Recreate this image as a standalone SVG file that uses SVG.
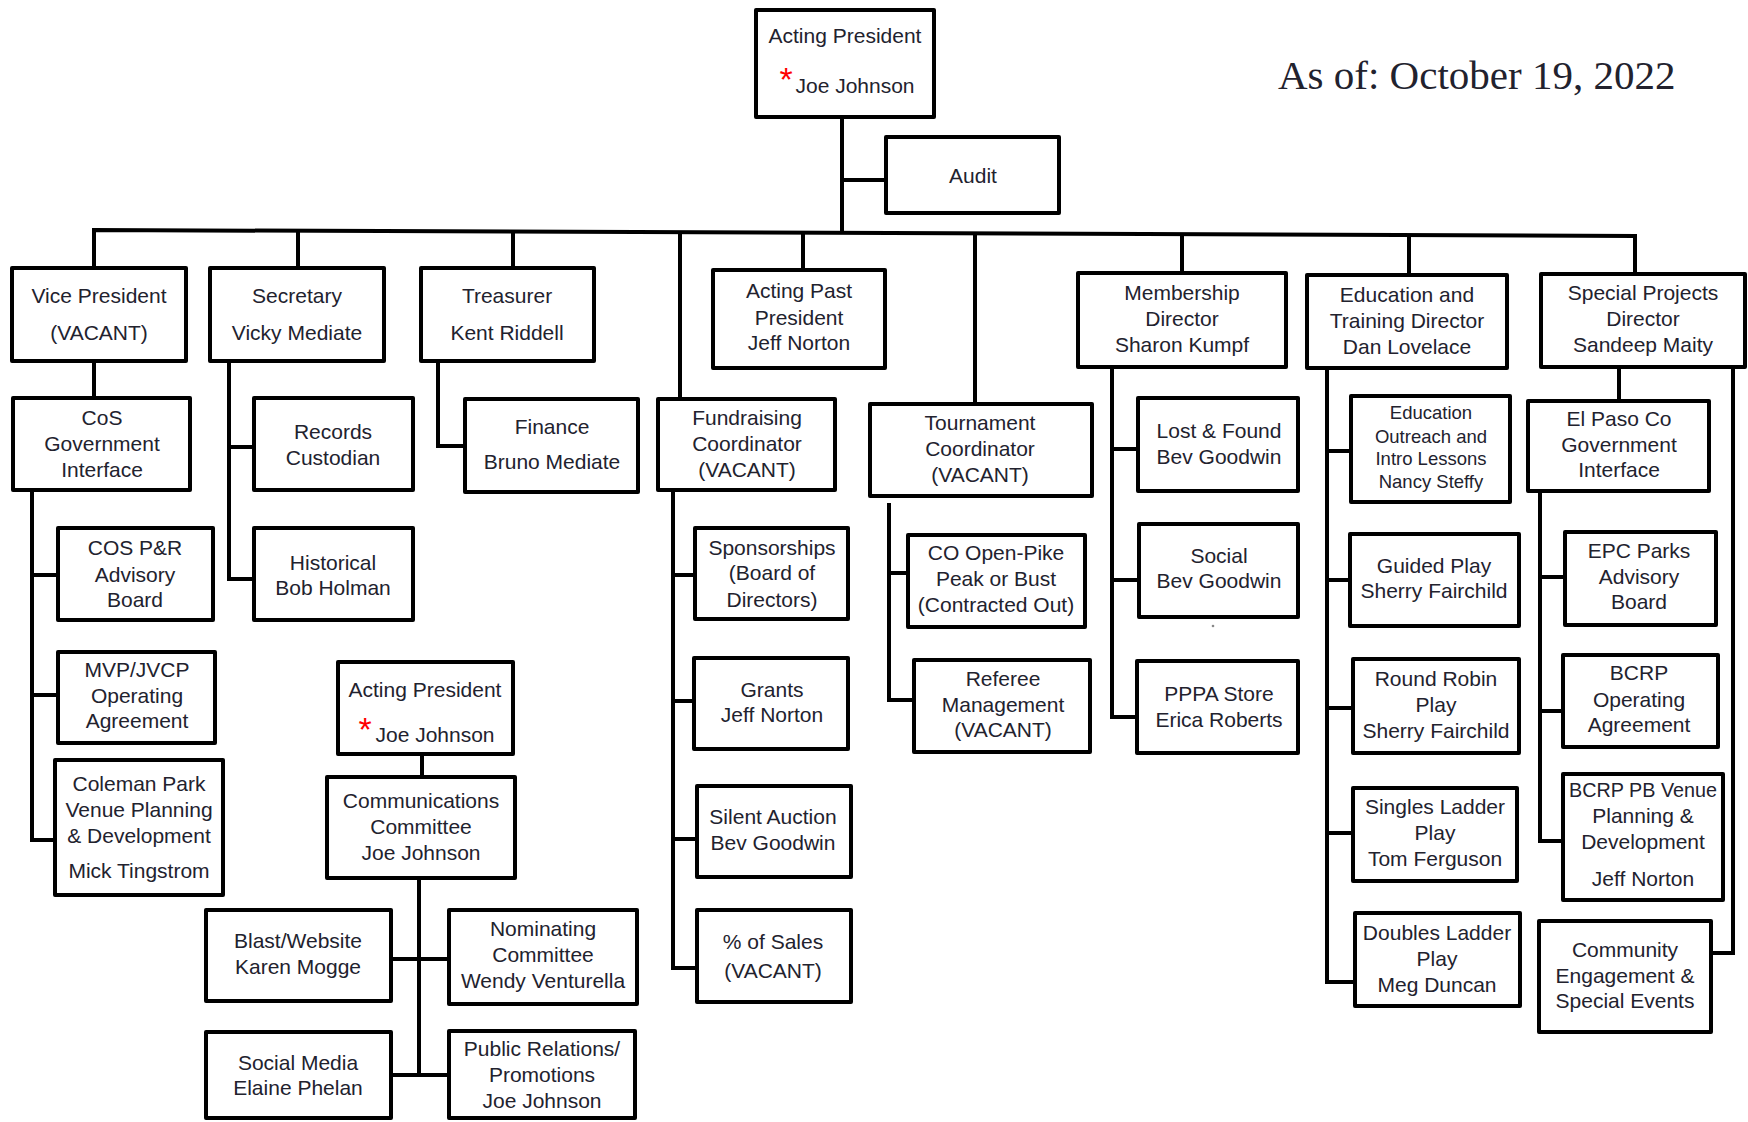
<svg xmlns="http://www.w3.org/2000/svg" width="1748" height="1122" viewBox="0 0 1748 1122">
<style>
.box{fill:#fff;stroke:#000;stroke-width:4;stroke-linejoin:round}
.t{font-family:"Liberation Sans",Arial,sans-serif;font-size:21px;fill:#22222e;text-anchor:middle}
.s{font-size:18.5px}
.ast{font-family:"Liberation Sans",Arial,sans-serif;font-size:34px;fill:#ff0000;text-anchor:middle}
.date{font-family:"Liberation Serif","Times New Roman",serif;font-size:41px;fill:#22222e}
.c{fill:none;stroke:#000;stroke-width:4;stroke-linejoin:miter}
</style>
<rect width="1748" height="1122" fill="#fff"/>
<text class="date" x="1278" y="89">As of: October 19, 2022</text>
<circle cx="1213" cy="626" r="1.3" fill="#888"/>
<g id="connectors">
<polyline class="c" points="94,268 94,230 1635,236 1635,274"/>
<line class="c" x1="298" y1="231" x2="298" y2="268"/>
<line class="c" x1="513" y1="232" x2="513" y2="268"/>
<line class="c" x1="680" y1="232" x2="680" y2="399"/>
<line class="c" x1="842" y1="117" x2="842" y2="234"/>
<line class="c" x1="842" y1="180" x2="886" y2="180"/>
<line class="c" x1="803" y1="233" x2="803" y2="270"/>
<line class="c" x1="975" y1="233" x2="975" y2="404"/>
<line class="c" x1="1182" y1="234" x2="1182" y2="273"/>
<line class="c" x1="1409" y1="235" x2="1409" y2="275"/>
<line class="c" x1="94" y1="361" x2="94" y2="398"/>
<polyline class="c" points="32,490 32,840 55,840"/>
<line class="c" x1="32" y1="575" x2="58" y2="575"/>
<line class="c" x1="32" y1="695" x2="58" y2="695"/>
<polyline class="c" points="229,361 229,579 254,579"/>
<line class="c" x1="229" y1="447" x2="254" y2="447"/>
<polyline class="c" points="438,361 438,446 465,446"/>
<polyline class="c" points="673,490 673,968 697,968"/>
<line class="c" x1="673" y1="575" x2="695" y2="575"/>
<line class="c" x1="673" y1="701" x2="694" y2="701"/>
<line class="c" x1="673" y1="839" x2="697" y2="839"/>
<polyline class="c" points="889,503 889,700 914,700"/>
<line class="c" x1="889" y1="573" x2="908" y2="573"/>
<polyline class="c" points="1112,367 1112,717 1137,717"/>
<line class="c" x1="1112" y1="449" x2="1138" y2="449"/>
<line class="c" x1="1112" y1="580" x2="1139" y2="580"/>
<polyline class="c" points="1327,368 1327,982 1355,982"/>
<line class="c" x1="1327" y1="451" x2="1351" y2="451"/>
<line class="c" x1="1327" y1="580" x2="1350" y2="580"/>
<line class="c" x1="1327" y1="708" x2="1353" y2="708"/>
<line class="c" x1="1327" y1="833" x2="1353" y2="833"/>
<line class="c" x1="1619" y1="367" x2="1619" y2="401"/>
<polyline class="c" points="1540,491 1540,841 1563,841"/>
<line class="c" x1="1540" y1="577" x2="1565" y2="577"/>
<line class="c" x1="1540" y1="711" x2="1563" y2="711"/>
<polyline class="c" points="1733,367 1733,953 1711,953"/>
<line class="c" x1="422" y1="754" x2="422" y2="777"/>
<line class="c" x1="419" y1="878" x2="419" y2="1075"/>
<line class="c" x1="391" y1="959" x2="449" y2="959"/>
<line class="c" x1="391" y1="1075" x2="449" y2="1075"/>
</g>
<g id="president"><rect class="box" x="756" y="10" width="178" height="107"/><text class="t" x="845" y="43">Acting President</text><text class="ast" x="786" y="91">*</text><text class="t" x="855" y="93">Joe Johnson</text></g>
<g id="audit"><rect class="box" x="886" y="137" width="173" height="76"/><text class="t" x="973" y="183">Audit</text></g>
<g id="vice-president"><rect class="box" x="12" y="268" width="174" height="93"/><text class="t" x="99" y="303">Vice President</text><text class="t" x="99" y="340">(VACANT)</text></g>
<g id="secretary"><rect class="box" x="210" y="268" width="174" height="93"/><text class="t" x="297" y="303">Secretary</text><text class="t" x="297" y="340">Vicky Mediate</text></g>
<g id="treasurer"><rect class="box" x="421" y="268" width="173" height="93"/><text class="t" x="507" y="303">Treasurer</text><text class="t" x="507" y="340">Kent Riddell</text></g>
<g id="acting-past-president"><rect class="box" x="713" y="270" width="172" height="98"/><text class="t" x="799" y="298">Acting Past</text><text class="t" x="799" y="325">President</text><text class="t" x="799" y="350">Jeff Norton</text></g>
<g id="membership"><rect class="box" x="1078" y="273" width="208" height="94"/><text class="t" x="1182" y="300">Membership</text><text class="t" x="1182" y="326">Director</text><text class="t" x="1182" y="352">Sharon Kumpf</text></g>
<g id="education"><rect class="box" x="1307" y="275" width="200" height="93"/><text class="t" x="1407" y="302">Education and</text><text class="t" x="1407" y="328">Training Director</text><text class="t" x="1407" y="354">Dan Lovelace</text></g>
<g id="special-projects"><rect class="box" x="1541" y="274" width="204" height="93"/><text class="t" x="1643" y="300">Special Projects</text><text class="t" x="1643" y="326">Director</text><text class="t" x="1643" y="352">Sandeep Maity</text></g>
<g id="cos-gov"><rect class="box" x="13" y="398" width="177" height="92"/><text class="t" x="102" y="425">CoS</text><text class="t" x="102" y="451">Government</text><text class="t" x="102" y="477">Interface</text></g>
<g id="cos-pr"><rect class="box" x="58" y="528" width="155" height="92"/><text class="t" x="135" y="555">COS P&amp;R</text><text class="t" x="135" y="582">Advisory</text><text class="t" x="135" y="607">Board</text></g>
<g id="mvp"><rect class="box" x="58" y="652" width="157" height="91"/><text class="t" x="137" y="677">MVP/JVCP</text><text class="t" x="137" y="703">Operating</text><text class="t" x="137" y="728">Agreement</text></g>
<g id="coleman"><rect class="box" x="55" y="760" width="168" height="135"/><text class="t" x="139" y="791">Coleman Park</text><text class="t" x="139" y="817">Venue Planning</text><text class="t" x="139" y="843">&amp; Development</text><text class="t" x="139" y="878">Mick Tingstrom</text></g>
<g id="records"><rect class="box" x="254" y="398" width="159" height="92"/><text class="t" x="333" y="439">Records</text><text class="t" x="333" y="465">Custodian</text></g>
<g id="historical"><rect class="box" x="254" y="528" width="159" height="92"/><text class="t" x="333" y="570">Historical</text><text class="t" x="333" y="595">Bob Holman</text></g>
<g id="finance"><rect class="box" x="465" y="399" width="173" height="93"/><text class="t" x="552" y="434">Finance</text><text class="t" x="552" y="469">Bruno Mediate</text></g>
<g id="fundraising"><rect class="box" x="658" y="399" width="177" height="91"/><text class="t" x="747" y="425">Fundraising</text><text class="t" x="747" y="451">Coordinator</text><text class="t" x="747" y="477">(VACANT)</text></g>
<g id="sponsorships"><rect class="box" x="695" y="528" width="153" height="91"/><text class="t" x="772" y="555">Sponsorships</text><text class="t" x="772" y="580">(Board of</text><text class="t" x="772" y="607">Directors)</text></g>
<g id="grants"><rect class="box" x="694" y="658" width="154" height="91"/><text class="t" x="772" y="697">Grants</text><text class="t" x="772" y="722">Jeff Norton</text></g>
<g id="silent-auction"><rect class="box" x="697" y="786" width="154" height="91"/><text class="t" x="773" y="824">Silent Auction</text><text class="t" x="773" y="850">Bev Goodwin</text></g>
<g id="pct-sales"><rect class="box" x="697" y="910" width="154" height="92"/><text class="t" x="773" y="949">% of Sales</text><text class="t" x="773" y="978">(VACANT)</text></g>
<g id="tournament"><rect class="box" x="870" y="404" width="222" height="92"/><text class="t" x="980" y="430">Tournament</text><text class="t" x="980" y="456">Coordinator</text><text class="t" x="980" y="482">(VACANT)</text></g>
<g id="co-open"><rect class="box" x="908" y="535" width="177" height="92"/><text class="t" x="996" y="560">CO Open-Pike</text><text class="t" x="996" y="586">Peak or Bust</text><text class="t" x="996" y="612">(Contracted Out)</text></g>
<g id="referee"><rect class="box" x="914" y="660" width="176" height="92"/><text class="t" x="1003" y="686">Referee</text><text class="t" x="1003" y="712">Management</text><text class="t" x="1003" y="737">(VACANT)</text></g>
<g id="lost-found"><rect class="box" x="1138" y="398" width="160" height="93"/><text class="t" x="1219" y="438">Lost &amp; Found</text><text class="t" x="1219" y="464">Bev Goodwin</text></g>
<g id="social"><rect class="box" x="1139" y="524" width="159" height="93"/><text class="t" x="1219" y="563">Social</text><text class="t" x="1219" y="588">Bev Goodwin</text></g>
<g id="pppa-store"><rect class="box" x="1137" y="661" width="161" height="92"/><text class="t" x="1219" y="701">PPPA Store</text><text class="t" x="1219" y="727">Erica Roberts</text></g>
<g id="edu-outreach"><rect class="box" x="1351" y="396" width="159" height="106"/><text class="t s" x="1431" y="419">Education</text><text class="t s" x="1431" y="443">Outreach and</text><text class="t s" x="1431" y="465">Intro Lessons</text><text class="t s" x="1431" y="488">Nancy Steffy</text></g>
<g id="guided-play"><rect class="box" x="1350" y="534" width="169" height="92"/><text class="t" x="1434" y="573">Guided Play</text><text class="t" x="1434" y="598">Sherry Fairchild</text></g>
<g id="round-robin"><rect class="box" x="1353" y="659" width="166" height="94"/><text class="t" x="1436" y="686">Round Robin</text><text class="t" x="1436" y="712">Play</text><text class="t" x="1436" y="738">Sherry Fairchild</text></g>
<g id="singles"><rect class="box" x="1353" y="788" width="164" height="93"/><text class="t" x="1435" y="814">Singles Ladder</text><text class="t" x="1435" y="840">Play</text><text class="t" x="1435" y="866">Tom Ferguson</text></g>
<g id="doubles"><rect class="box" x="1355" y="913" width="165" height="93"/><text class="t" x="1437" y="940">Doubles Ladder</text><text class="t" x="1437" y="966">Play</text><text class="t" x="1437" y="992">Meg Duncan</text></g>
<g id="el-paso"><rect class="box" x="1528" y="401" width="181" height="90"/><text class="t" x="1619" y="426">El Paso Co</text><text class="t" x="1619" y="452">Government</text><text class="t" x="1619" y="477">Interface</text></g>
<g id="epc-parks"><rect class="box" x="1565" y="532" width="151" height="93"/><text class="t" x="1639" y="558">EPC Parks</text><text class="t" x="1639" y="584">Advisory</text><text class="t" x="1639" y="609">Board</text></g>
<g id="bcrp-operating"><rect class="box" x="1563" y="655" width="155" height="92"/><text class="t" x="1639" y="680">BCRP</text><text class="t" x="1639" y="707">Operating</text><text class="t" x="1639" y="732">Agreement</text></g>
<g id="bcrp-venue"><rect class="box" x="1563" y="774" width="160" height="126"/><text class="t" x="1643" y="797" textLength="148" lengthAdjust="spacingAndGlyphs">BCRP PB Venue</text><text class="t" x="1643" y="823">Planning &amp;</text><text class="t" x="1643" y="849">Development</text><text class="t" x="1643" y="886">Jeff Norton</text></g>
<g id="community"><rect class="box" x="1539" y="921" width="172" height="111"/><text class="t" x="1625" y="957">Community</text><text class="t" x="1625" y="983">Engagement &amp;</text><text class="t" x="1625" y="1008">Special Events</text></g>
<g id="acting-president-2"><rect class="box" x="338" y="662" width="175" height="92"/><text class="t" x="425" y="697">Acting President</text><text class="ast" x="365" y="741">*</text><text class="t" x="435" y="742">Joe Johnson</text></g>
<g id="communications"><rect class="box" x="327" y="777" width="188" height="101"/><text class="t" x="421" y="808">Communications</text><text class="t" x="421" y="834">Committee</text><text class="t" x="421" y="860">Joe Johnson</text></g>
<g id="blast"><rect class="box" x="206" y="910" width="185" height="91"/><text class="t" x="298" y="948">Blast/Website</text><text class="t" x="298" y="974">Karen Mogge</text></g>
<g id="nominating"><rect class="box" x="449" y="910" width="188" height="94"/><text class="t" x="543" y="936">Nominating</text><text class="t" x="543" y="962">Committee</text><text class="t" x="543" y="988">Wendy Venturella</text></g>
<g id="social-media"><rect class="box" x="206" y="1032" width="185" height="86"/><text class="t" x="298" y="1070">Social Media</text><text class="t" x="298" y="1095">Elaine Phelan</text></g>
<g id="public-relations"><rect class="box" x="449" y="1031" width="186" height="87"/><text class="t" x="542" y="1056">Public Relations/</text><text class="t" x="542" y="1082">Promotions</text><text class="t" x="542" y="1108">Joe Johnson</text></g>
</svg>
